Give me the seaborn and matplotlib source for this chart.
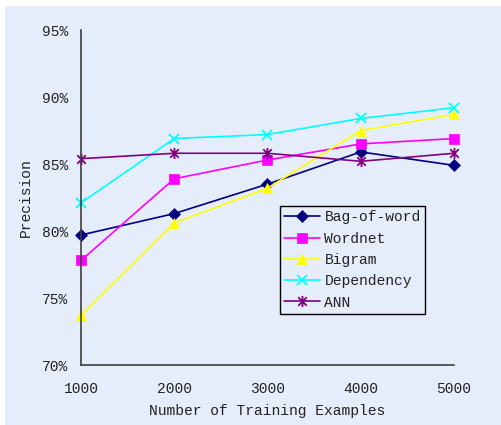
import numpy as np
import pandas as pd
import matplotlib
matplotlib.use("Agg")
import matplotlib.pyplot as plt
from matplotlib.path import Path
from matplotlib.patches import Rectangle
import seaborn as sns

# Training-set sizes and precision (%) for each feature set
train_sizes = [1000, 2000, 3000, 4000, 5000]
bag_of_word = [79.7, 81.3, 83.5, 85.9, 84.9]
wordnet = [77.8, 83.9, 85.3, 86.5, 86.9]
bigram = [73.7, 80.6, 83.2, 87.5, 88.7]
dependency = [82.1, 86.9, 87.2, 88.4, 89.2]
ann = [85.4, 85.8, 85.8, 85.2, 85.8]

series_names = ["Bag-of-word", "Wordnet", "Bigram", "Dependency", "ANN"]
series_values = [bag_of_word, wordnet, bigram, dependency, ann]

y_ticks = [70, 75, 80, 85, 90, 95]
x_ticks = train_sizes

df = pd.DataFrame(
    [(n, x, v) for n, vals in zip(series_names, series_values) for x, v in zip(train_sizes, vals)],
    columns=["feature", "size", "precision"],
)

# star marker: an X crossed by a vertical bar
star_path = Path(
    [(-1, -1), (1, 1), (-1, 1), (1, -1), (0, -1.3), (0, 1.3)],
    [Path.MOVETO, Path.LINETO, Path.MOVETO, Path.LINETO, Path.MOVETO, Path.LINETO],
)

colors = {
    "Bag-of-word": "#000080",
    "Wordnet": "#FF00FF",
    "Bigram": "#FFFF00",
    "Dependency": "#00FFFF",
    "ANN": "#800080",
}
markers = {"Bag-of-word": "D", "Wordnet": "s", "Bigram": "^", "Dependency": "x", "ANN": star_path}
msizes = {"Bag-of-word": 6, "Wordnet": 6.5, "Bigram": 7, "Dependency": 7, "ANN": 8}

sns.set_theme(style="white")
plt.rcParams["font.family"] = ["Liberation Mono", "DejaVu Sans Mono"]

bg = "#E5EDFB"
fig = plt.figure(figsize=(5.02, 4.25), dpi=100, facecolor="white")
fig.patches.append(Rectangle((5 / 502, 0), 1, 1 - 6 / 425, transform=fig.transFigure,
                             facecolor=bg, edgecolor="none", zorder=-10))
ax = fig.add_axes([81 / 502, 1 - 365 / 425, (454 - 81) / 502, (365 - 30) / 425])
ax.set_facecolor(bg)

for name in series_names:
    sub = df[df["feature"] == name]
    sns.lineplot(data=sub, x="size", y="precision", ax=ax, color=colors[name],
                 marker=markers[name], markersize=msizes[name],
                 markeredgecolor=colors[name], markerfacecolor=colors[name],
                 markeredgewidth=1.3 if name in ("Dependency", "ANN") else 0.5,
                 linewidth=1.2, label=name, clip_on=False)

ax.set_xlim(1000, 5000)
ax.set_ylim(70, 95)
ax.set_xticks(x_ticks)
ax.set_xticklabels([str(x) for x in x_ticks])
ax.set_yticks(y_ticks)
ax.set_yticklabels([f"{y}%" for y in y_ticks])

for s in ("top", "right"):
    ax.spines[s].set_visible(False)
for s in ("left", "bottom"):
    ax.spines[s].set_color("#404040")
    ax.spines[s].set_linewidth(1.2)

ax.tick_params(axis="both", direction="in", length=5, width=1.2, color="#404040",
               labelsize=10.5, labelcolor="#222222")
ax.tick_params(axis="x", pad=12)
ax.tick_params(axis="y", pad=9.5)

ax.set_xlabel("Number of Training Examples", fontsize=10.5, color="#222222", labelpad=6)
ax.set_ylabel("Precision", fontsize=10.5, color="#222222", labelpad=6)

leg = ax.legend(loc="upper left", bbox_to_anchor=((280 - 81) / 373, 1 - (206 - 30) / 335),
                frameon=True, fancybox=False, framealpha=1, facecolor=bg, edgecolor="black",
                fontsize=10.5, handlelength=2.45, handletextpad=0.3, borderpad=0.3,
                labelspacing=0.5, borderaxespad=0)
leg.get_frame().set_linewidth(1.0)
for t in leg.get_texts():
    t.set_color("#222222")

fig.savefig("out.png", dpi=100, facecolor="white")
